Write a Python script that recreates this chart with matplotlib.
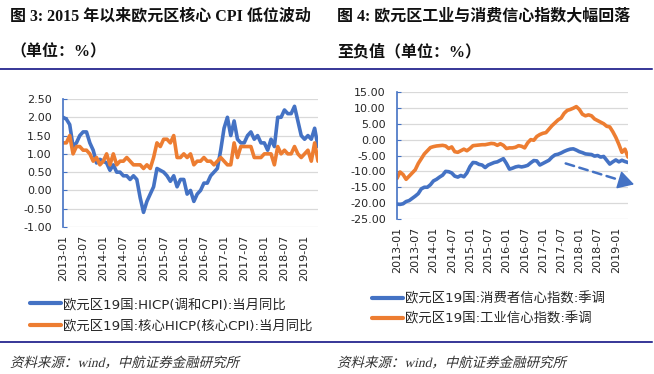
import numpy as np
import pandas as pd
import matplotlib
matplotlib.use("Agg")
import matplotlib.pyplot as plt
from matplotlib.font_manager import FontProperties
from matplotlib.textpath import TextPath
from matplotlib.patches import PathPatch
from matplotlib.transforms import Affine2D

# monthly data, 2013-01 .. 2019-05
months = pd.date_range("2013-01-01", periods=77, freq="MS")
month_labels = [m.strftime("%Y-%m") for m in months]

hicp = [2.0, 1.95, 1.8, 1.2, 1.3, 1.5, 1.6, 1.6, 1.3, 1.1, 0.75, 0.85,
        0.8, 0.75, 0.55, 0.7, 0.5, 0.5, 0.4, 0.4, 0.3, 0.4, 0.3, -0.2,
        -0.6, -0.3, -0.1, 0.1, 0.6, 0.55, 0.5, 0.4, 0.25, 0.4, 0.1, 0.3,
        0.3, -0.1, 0.0, -0.3, -0.1, 0.0, 0.2, 0.2, 0.4, 0.5, 0.6, 1.1,
        1.7, 2.0, 1.5, 1.9, 1.4, 1.3, 1.3, 1.5, 1.6, 1.4, 1.5, 1.3,
        1.3, 1.1, 1.4, 1.2, 2.0, 2.0, 2.2, 2.1, 2.1, 2.3, 1.9, 1.5,
        1.4, 1.5, 1.4, 1.7, 1.2]
core_hicp = [1.3, 1.3, 1.5, 1.0, 1.2, 1.2, 1.1, 1.1, 1.0, 0.8, 0.9, 0.7,
             0.8, 1.0, 0.7, 1.0, 0.7, 0.8, 0.8, 0.9, 0.8, 0.7, 0.7, 0.7,
             0.6, 0.7, 0.6, 0.9, 1.3, 1.2, 1.4, 1.4, 1.3, 1.5, 0.9, 0.9,
             1.0, 0.9, 1.0, 0.7, 0.8, 0.8, 0.9, 0.8, 0.8, 0.7, 0.8, 0.9,
             0.8, 0.7, 0.7, 1.3, 0.9, 1.2, 1.2, 1.2, 1.2, 0.9, 0.9, 0.9,
             1.0, 1.0, 1.0, 0.7, 1.2, 1.0, 1.1, 1.0, 1.0, 1.2, 1.0, 0.9,
             1.0, 1.1, 0.8, 1.3, 0.8]

consumer_conf = [-20.3, -20.4, -20.2, -19.5, -19.2, -18.5, -17.8, -17.0, -15.5, -15.0, -15.0, -14.2,
                 -13.0, -12.5, -11.8, -11.2, -10.0, -10.1, -10.5, -11.5, -11.8, -11.3, -11.7, -10.5,
                 -8.5, -7.2, -7.3, -7.8, -8.0, -8.8, -8.0, -7.6, -7.2, -7.0, -6.5, -6.0,
                 -7.5, -9.3, -9.0, -8.6, -8.4, -8.6, -8.4, -8.1, -7.3, -6.6, -6.7, -8.0,
                 -7.5, -7.0, -6.5, -5.5, -4.8, -4.6, -4.2, -3.7, -3.3, -3.0, -2.9, -3.3,
                 -3.8, -4.1, -4.5, -4.6, -4.7, -5.2, -5.0, -5.5, -5.3, -6.5, -7.7, -7.0,
                 -6.4, -7.0, -6.5, -6.9, -7.2]
industry_conf = [-12.2, -10.2, -11.0, -12.5, -11.5, -10.5, -9.5, -7.5, -6.0, -4.5, -3.5, -2.5,
                 -2.2, -2.0, -1.9, -1.8, -2.0, -2.8, -2.3, -3.8, -4.0, -3.5, -3.0, -3.5,
                 -2.8, -1.9, -1.8, -1.7, -1.6, -1.6, -1.4, -1.2, -1.3, -1.8, -1.3, -1.8,
                 -2.8, -2.6, -2.6, -2.4, -1.9, -2.1, -2.6, -1.0, 0.0, -0.2, 1.0, 1.6,
                 2.0, 2.2, 3.3, 4.4, 5.3, 6.2, 6.8, 8.3, 9.2, 9.5, 9.9, 10.4,
                 9.5, 8.0, 7.5, 7.8, 7.5, 6.5, 6.0, 5.5, 5.0, 4.2, 4.0, 2.5,
                 0.7, -1.5, -4.0, -3.0, -5.5]

# dashed trend arrow on the right chart (month index, value)
trend_start = (55.5, -7.5)
trend_head = (74.5, -13.1)
trend_end = (78.0, -14.1)

BLUE = "#4472C4"
ORANGE = "#ED7D31"
NAVY = "#00007A"
SANS_CJK = ["DejaVu Sans", "Noto Sans CJK SC"]
SERIF_CJK = ["Liberation Serif", "Noto Sans CJK SC"]

plt.rcParams["font.family"] = SANS_CJK
plt.rcParams["axes.unicode_minus"] = False

W, H = 654, 374
fig = plt.figure(figsize=(W / 100, H / 100), dpi=100)


def px_axes(x0, y0, x1, y1):
    return fig.add_axes([x0 / W, 1 - y1 / H, (x1 - x0) / W, (y1 - y0) / H])


def style_axes(ax, yticks, fmt):
    ax.set_xlim(0, len(months) - 1)
    ax.set_ylim(yticks[0], yticks[-1])
    ax.set_yticks(yticks)
    ax.set_yticklabels([fmt % v for v in yticks], fontsize=8, color="#262626")
    ax.set_xticks(range(0, len(months), 6))
    ax.set_xticklabels(month_labels[::6], rotation=90, fontsize=8, color="#262626")
    ax.tick_params(axis="x", length=0, pad=5.5)
    ax.tick_params(axis="y", direction="in", length=3, color=BLUE, pad=8)
    for s in ("top", "right", "bottom"):
        ax.spines[s].set_visible(False)
    ax.spines["left"].set_color(BLUE)
    ax.spines["left"].set_linewidth(1.2)
    ax.grid(axis="y", color="#D9D9D9", lw=0.9)
    ax.set_axisbelow(True)


x = np.arange(len(months))

# left chart
ax1 = px_axes(63, 99, 318, 227)
l1, = ax1.plot(x, hicp, color=BLUE, lw=2.6, solid_capstyle="round")
l2, = ax1.plot(x, core_hicp, color=ORANGE, lw=2.6, solid_capstyle="round")
style_axes(ax1, np.arange(-1.0, 2.51, 0.5), "%.2f")

# right chart
ax2 = px_axes(397, 92, 628, 219)
r1, = ax2.plot(x, consumer_conf, color=BLUE, lw=2.6, solid_capstyle="round")
r2, = ax2.plot(x, industry_conf, color=ORANGE, lw=2.6, solid_capstyle="round")
style_axes(ax2, np.arange(-25, 15.1, 5), "%.2f")
ax2.annotate("", xy=trend_head, xytext=trend_start, annotation_clip=False,
             arrowprops=dict(arrowstyle="-", color=BLUE, lw=1.8,
                             linestyle=(0, (3.5, 2.2)), shrinkA=0, shrinkB=0))
ax2.annotate("", xy=trend_end, xytext=trend_head, annotation_clip=False,
             arrowprops=dict(arrowstyle="-|>,head_length=0.7,head_width=0.4",
                             color=BLUE, lw=1.2, mutation_scale=14,
                             shrinkA=0, shrinkB=0))

# legends
leg_kw = dict(loc="upper left", frameon=False, fontsize=9.6, handlelength=2.35,
              handletextpad=0.15, borderpad=0, borderaxespad=0,
              labelcolor="#262626")
lg1 = fig.legend([l1, l2], ["欧元区19国:HICP(调和CPI):当月同比",
                            "欧元区19国:核心HICP(核心CPI):当月同比"],
                 bbox_to_anchor=(30 / W, 1 - 298 / H), labelspacing=0.65, **leg_kw)
lg2 = fig.legend([r1, r2], ["欧元区19国:消费者信心指数:季调",
                            "欧元区19国:工业信心指数:季调"],
                 bbox_to_anchor=(372 / W, 1 - 292 / H), labelspacing=0.5, **leg_kw)
for lg in (lg1, lg2):
    for h in lg.legend_handles:
        h.set_linewidth(3.0)

# titles
title_kw = dict(fontsize=11.5, fontweight="bold", family=SERIF_CJK, va="center",
                color="#111111")
fig.text(10 / W, 1 - 16 / H, "图 3: 2015 年以来欧元区核心 CPI 低位波动", **title_kw)
fig.text(10 / W, 1 - 52 / H, "（单位：%）", **title_kw)
fig.text(337 / W, 1 - 16 / H, "图 4: 欧元区工业与消费信心指数大幅回落", **title_kw)
fig.text(337 / W, 1 - 52 / H, "至负值（单位：%）", **title_kw)

# separator rules
for yy in (69, 342):
    fig.add_artist(plt.Line2D([0, 652 / W], [1 - yy / H] * 2, color=NAVY, lw=1.1))


# source notes, slanted like the original italic
def slanted_text(x_px, y_base_px, s, size):
    fp = FontProperties(family=SERIF_CJK, size=size)
    tp = TextPath((0, 0), s, prop=fp)
    tr = (Affine2D().skew_deg(14, 0)
          .translate(x_px * 0.72, (H - y_base_px) * 0.72)
          .scale(1 / 72) + fig.dpi_scale_trans)
    fig.add_artist(PathPatch(tp, transform=tr, fc="#333333", ec="none"))


slanted_text(10, 367, "资料来源：wind，中航证券金融研究所", 9.7)
slanted_text(337, 367, "资料来源：wind，中航证券金融研究所", 9.7)

fig.savefig("out.png", dpi=100)
